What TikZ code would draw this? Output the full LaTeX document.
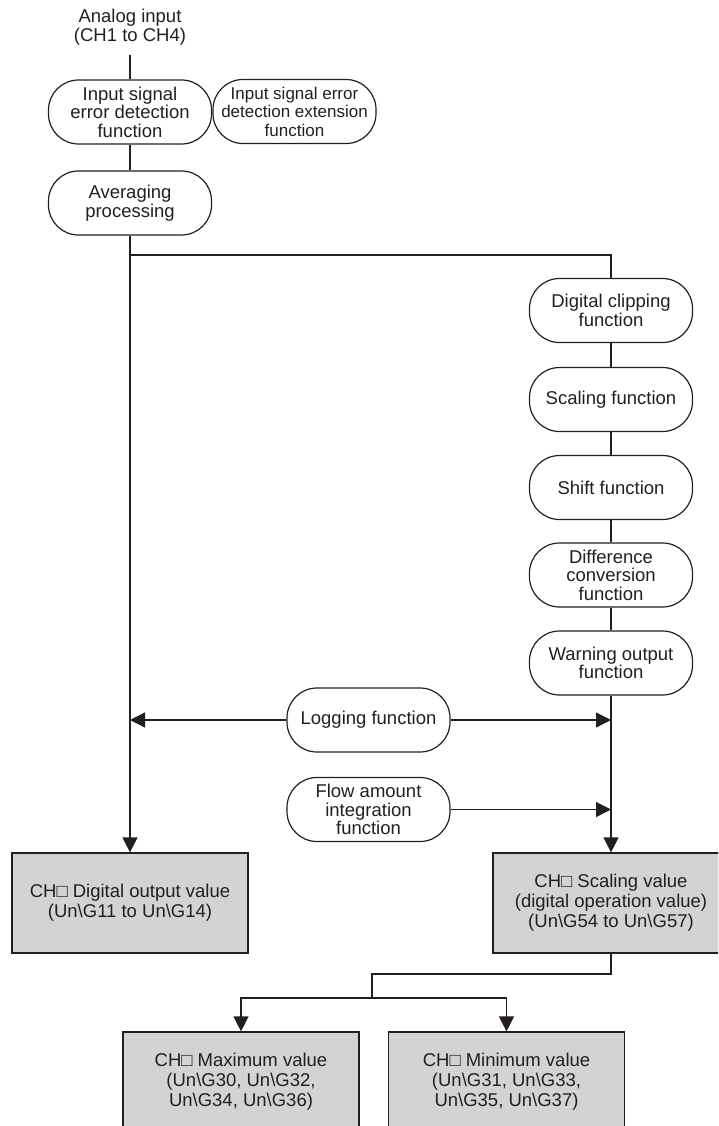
\documentclass[tikz,border=0pt]{standalone}
\usepackage{fontspec}
\setmainfont{Liberation Sans}
\usetikzlibrary{arrows.meta}
\definecolor{boxgray}{RGB}{211,211,211}
\definecolor{ink}{RGB}{35,31,32}
\newcommand{\bsl}{\textbackslash}
\begin{document}
\begin{tikzpicture}[x=1pt,y=-1pt,
  every node/.style={font=\fontsize{18.5}{18.5}\selectfont, text=ink},
  func/.style={draw=ink, line width=1.2pt, rounded corners=30pt, minimum width=163pt, minimum height=64pt, align=center, inner sep=0pt},
  valbox/.style={draw=ink, fill=boxgray, line width=1.2pt, minimum width=236pt, minimum height=100pt, align=center, inner sep=0pt, font=\fontsize{18.5}{20}\selectfont},
  conn/.style={draw=ink, line width=1.2pt},
  arr/.style={conn, -{Triangle[length=15pt,width=15pt]}}]
\useasboundingbox (0,0) rectangle (718,1126);
\clip (0,0) rectangle (718,1126);
\node[align=center, inner sep=0pt] (in) at (130,27) {Analog input\\(CH1 to CH4)};
\coordinate (inl) at (130,55);
\node[func] (ise) at (130,112) {Input signal\\error detection\\function};
\node[func, font=\fontsize{17}{18.5}\selectfont] (isx) at (294.5,111.5) {Input signal error\\detection extension\\function};
\node[func] (avg) at (130,203) {Averaging\\processing};
\node[func] (dcl) at (611,310.5) {Digital clipping\\function};
\node[func] (scl) at (611,399.5) {Scaling function};
\node[func] (sft) at (611,487.5) {Shift function};
\node[func] (dif) at (611,575) {Difference\\conversion\\function};
\node[func] (wrn) at (611,663) {Warning output\\function};
\node[func] (log) at (368.5,720) {Logging function};
\node[func] (flw) at (368.5,809.5) {Flow amount\\integration\\function};
\node[valbox] (dov) at (130,903) {CH□ Digital output value\\(Un\bsl G11 to Un\bsl G14)};
\node[valbox] (sv) at (611,903) {CH□ Scaling value\\(digital operation value)\\(Un\bsl G54 to Un\bsl G57)};
\node[valbox] (mx) at (241,1082) {CH□ Maximum value\\(Un\bsl G30, Un\bsl G32,\\Un\bsl G34, Un\bsl G36)};
\node[valbox] (mn) at (506.5,1082) {CH□ Minimum value\\(Un\bsl G31, Un\bsl G33,\\Un\bsl G35, Un\bsl G37)};
\coordinate (br) at (130,255);
\coordinate (brr) at (611,255);
\coordinate (j2) at (372,974);
\coordinate (j3) at (372,998);
\draw[conn] (inl) -- (ise);
\draw[conn] (ise) -- (avg);
\draw[arr] (avg) -- (dov);
\draw[conn] (br) -- (brr) -- (dcl);
\draw[conn] (dcl) -- (scl) -- (sft) -- (dif) -- (wrn);
\draw[arr] (wrn) -- (sv);
\draw[arr] (log) -- (log -| avg);
\draw[arr] (log) -- (log -| sv);
\draw[arr] (flw) -- (flw -| sv);
\draw[conn] (sv) -- (sv |- j2) -- (j2) -- (j3);
\draw[arr] (j3) -| (mx);
\draw[arr] (j3) -| (mn);
\end{tikzpicture}
\end{document}
